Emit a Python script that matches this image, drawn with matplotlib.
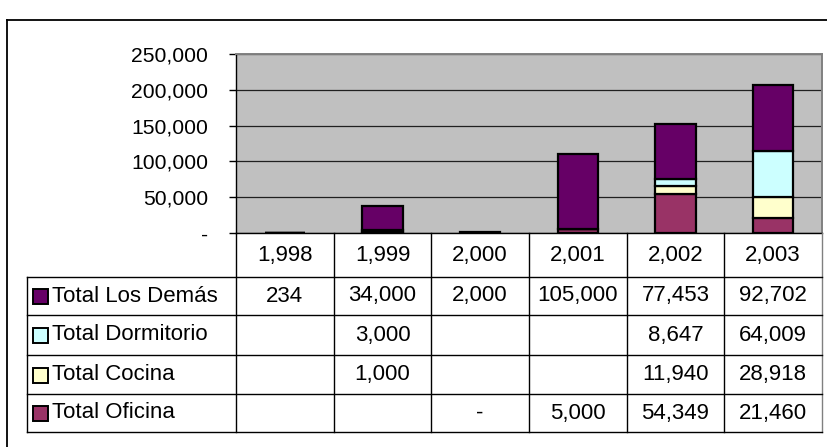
import matplotlib
matplotlib.use("Agg")
import matplotlib.pyplot as plt
import matplotlib.transforms as mtransforms
from matplotlib.lines import Line2D
from matplotlib.patches import Rectangle
from matplotlib.ticker import FuncFormatter

plt.rcParams['font.family'] = ['Liberation Sans', 'DejaVu Sans']

# ---------------- data ----------------
years = ["1,998", "1,999", "2,000", "2,001", "2,002", "2,003"]
series_names = ["Total Los Demás", "Total Dormitorio", "Total Cocina", "Total Oficina"]
los_demas = [234, 34000, 2000, 105000, 77453, 92702]
dormitorio = [None, 3000, None, None, 8647, 64009]
cocina = [None, 1000, None, None, 11940, 28918]
oficina = [None, None, 0, 5000, 54349, 21460]
y_ticks = [0, 50000, 100000, 150000, 200000, 250000]

colors = {"Total Los Demás": "#660066", "Total Dormitorio": "#CCFFFF",
          "Total Cocina": "#FFFFCC", "Total Oficina": "#993366"}
values = {"Total Los Demás": los_demas, "Total Dormitorio": dormitorio,
          "Total Cocina": cocina, "Total Oficina": oficina}

W, H = 828, 447
FS_TICK = 15.2
FS_TAB = 16.0
fig = plt.figure(figsize=(W / 100, H / 100), dpi=100)
fig.patch.set_facecolor("white")

def fx(x):
    return x / W

def fy(y):
    return 1 - y / H

ax = fig.add_axes([fx(236), fy(233), (822 - 236) / W, (233 - 54) / H])
ax.set_facecolor("#C0C0C0")

x = list(range(len(years)))
bottom = [0.0] * len(years)
for name in ["Total Oficina", "Total Cocina", "Total Dormitorio", "Total Los Demás"]:
    vals = [v if v is not None else 0 for v in values[name]]
    ax.bar(x, vals, width=0.41, bottom=bottom, color=colors[name],
           edgecolor="black", linewidth=1.6, zorder=3)
    bottom = [b + v for b, v in zip(bottom, vals)]

ax.set_xlim(-0.5, len(years) - 0.5)
ax.set_ylim(0, 250000)
ax.set_yticks(y_ticks)
ax.yaxis.set_major_formatter(FuncFormatter(lambda v, p: "-" if v == 0 else f"{int(v):,}"))
ax.tick_params(axis="y", length=5, width=1, pad=15, labelsize=FS_TICK, direction="out")
ax.set_xticks([])
ax.grid(axis="y", color="#202020", linewidth=0.9, zorder=1)
ax.set_axisbelow(True)
for s in ["top", "right"]:
    ax.spines[s].set_color("#808080")
    ax.spines[s].set_linewidth(1.4)
for s in ["left", "bottom"]:
    ax.spines[s].set_color("black")
    ax.spines[s].set_linewidth(1.0)

# ---------------- data table ----------------
def hline(x0, x1, y, color="black", lw=1.0):
    fig.add_artist(Line2D([fx(x0), fx(x1)], [fy(y), fy(y)], color=color, lw=lw,
                          transform=fig.transFigure))

def vline(x0, y0, y1, color="black", lw=1.0):
    fig.add_artist(Line2D([fx(x0), fx(x0)], [fy(y0), fy(y1)], color=color, lw=lw,
                          transform=fig.transFigure))

col_edges = [236 + i * (822 - 236) / len(years) for i in range(len(years) + 1)]
row_edges = [277, 315, 355, 394, 432]

for i, xe in enumerate(col_edges):
    vline(xe, 233, 432, color="#808080" if i == len(col_edges) - 1 else "black")
vline(27, 277, 432)
for ye in row_edges:
    hline(27, 822, ye)

blend = mtransforms.blended_transform_factory(ax.transData, fig.transFigure)
for i, lab in enumerate(years):
    fig.text(i, fy(256), lab, transform=blend, ha="center", va="center", fontsize=FS_TAB)

for r, name in enumerate(series_names):
    yc = (row_edges[r] + row_edges[r + 1]) / 2
    fig.add_artist(Rectangle((fx(33), fy(yc + 8)), 15 / W, 15 / H, transform=fig.transFigure,
                             facecolor=colors[name], edgecolor="black", linewidth=1.4))
    fig.text(fx(52), fy(yc), name, ha="left", va="center", fontsize=FS_TAB)
    for i, v in enumerate(values[name]):
        if v is None:
            continue
        txt = "-" if v == 0 else f"{v:,}"
        fig.text(i, fy(yc), txt, transform=blend, ha="center", va="center", fontsize=FS_TAB)

# outer chart frame
hline(7, 828, 20, lw=1.3)
vline(7, 20, 447, lw=1.3)

fig.savefig("out.png", dpi=100)
